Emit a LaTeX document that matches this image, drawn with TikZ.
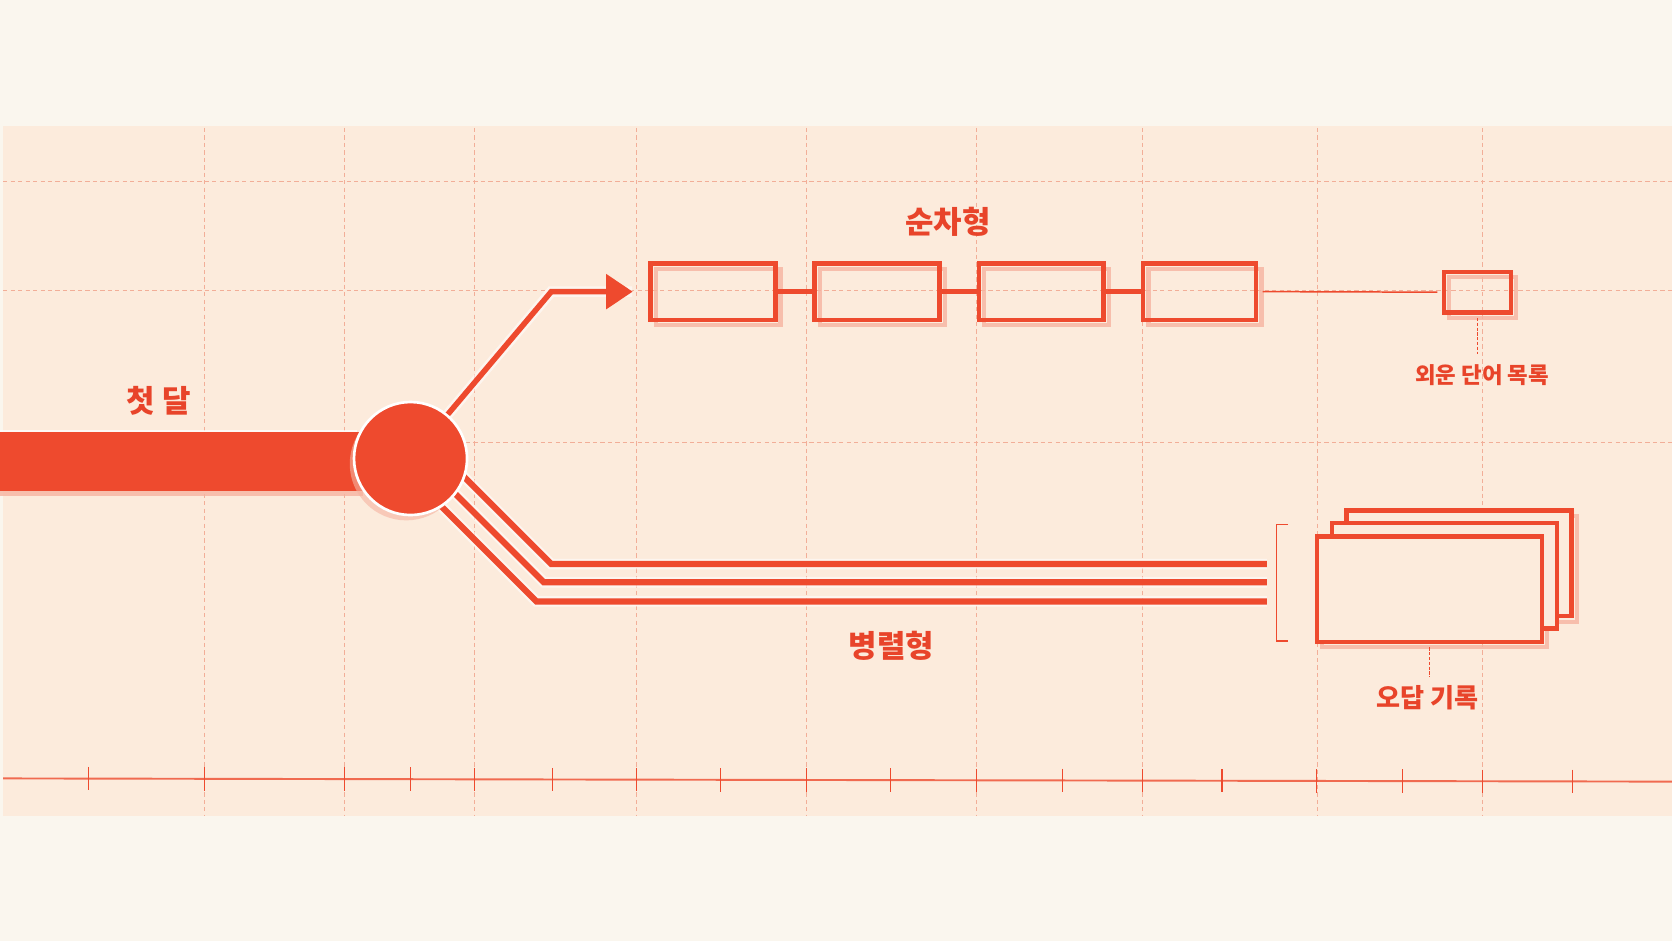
\documentclass[tikz,border=0pt]{standalone}
\usepackage{fontspec}
\newfontfamily\kr{Noto Sans CJK KR}
\usetikzlibrary{arrows.meta}
\definecolor{cream}{HTML}{FAF6EE}
\definecolor{band}{HTML}{FCEBDC}
\definecolor{gridc}{HTML}{F2AE98}
\definecolor{mainred}{HTML}{EE4A2E}
\definecolor{shadowc}{HTML}{F6B3A0}
\definecolor{textred}{HTML}{E8442A}
\pgfdeclarelayer{back}
\pgfdeclarelayer{lines}
\pgfsetlayers{back,lines,main}
\begin{document}
\begin{tikzpicture}[x=1pt,y=-1pt,
  gridline/.style={draw=gridc, line width=0.8pt, dash pattern=on 4pt off 3pt},
  redline/.style={draw=mainred, line width=5.8pt},
  halo/.style={draw=white, line width=10pt, opacity=0.55},
  seqbox/.style={draw=mainred, line width=4.3pt, minimum width=117pt, minimum height=53pt, inner sep=0pt},
  shbox/.style={draw=shadowc, line width=4pt, opacity=0.8},
  stackbox/.style={draw=mainred, fill=band, line width=4.3pt, minimum width=211pt, minimum height=99pt, inner sep=0pt},
  lbl/.style={text=textred, inner sep=0pt, font=\kr\bfseries\fontsize{29}{31}\selectfont},
  small/.style={font=\kr\bfseries\fontsize{21}{23}\selectfont},
  mid/.style={font=\kr\bfseries\fontsize{24.5}{26}\selectfont},
  leader/.style={draw=mainred, line width=1.2pt, dash pattern=on 3pt off 1.5pt},
  thin/.style={draw=mainred, line width=1.4pt},
  tick/.style={draw=mainred, line width=1pt}]
\useasboundingbox (0,0) rectangle (1568,882);
\begin{pgfonlayer}{back}
\fill[cream] (0,0) rectangle (1568,882);
\fill[band] (3,118) rectangle (1568,765);
\foreach \gx in {192,323,445,597,756,916,1071,1235,1390}
  \draw[gridline] (\gx,120) -- (\gx,765);
\foreach \gy in {170,272,415}
  \draw[gridline] (3,\gy) -- (1568,\gy);
% axis
\coordinate (axL) at (3,730);
\coordinate (axR) at (1568,733);
\draw[draw=mainred, line width=1.8pt, opacity=0.8] (axL) -- (axR);
\foreach \tx in {83,192,323,385,445,518,597,676,756,835,916,996,1071,1146,1235,1315,1390,1475}
  \draw[tick] (\tx,{719+3*\tx/1568}) -- (\tx,{741+3*\tx/1568});
\end{pgfonlayer}

% shadows of sequence boxes
\foreach \bx/\bw in {668.5/117,822.5/117,976.5/117,1125/106}
  \draw[shbox] ({\bx-\bw/2+5},252) rectangle ++(\bw,53);
\draw[shbox] (1359,260) rectangle ++(63,38);
\draw[shbox] (1240,508) rectangle ++(211,99);
\draw[shbox] (1268,484) rectangle ++(211,99);

% bar and circle
\fill[shadowc, opacity=0.8] (0,458) rectangle (340,465);
\node[draw=none, fill=mainred, minimum width=340pt, minimum height=55pt, inner sep=0pt, anchor=west] (bar) at (0,432.5) {};
\draw[white, line width=2pt, opacity=0.7] (0,404) -- (335,404);
\fill[shadowc, opacity=0.6] (381,435) circle (53);
\node[circle, fill=mainred, draw=white, line width=2.5pt, minimum size=106pt, inner sep=0pt] (c) at (385,430) {};

% sequence boxes
\node[seqbox] (b1) at (668.5,273.5) {};
\node[seqbox] (b2) at (822.5,273.5) {};
\node[seqbox] (b3) at (976.5,273.5) {};
\node[seqbox, minimum width=106pt] (b4) at (1125,273.5) {};
\node[seqbox, minimum width=63pt, minimum height=38pt] (sb) at (1385.5,274) {};

\draw[redline, line width=5pt] (b1.east) -- (b2.west);
\draw[redline, line width=5pt] (b2.east) -- (b3.west);
\draw[redline, line width=5pt] (b3.east) -- (b4.west);
\draw[thin] ([xshift=4pt]b4.east) -- ([xshift=-4pt]sb.west);

% arrow
\coordinate (ac) at (517,273.5);
\begin{pgfonlayer}{lines}
\draw[halo] (c) -- (ac) -- ([xshift=-15pt]b1.west);
\end{pgfonlayer}
\draw[redline, line width=5.2pt, -{Triangle[length=25pt,width=32pt]}, shorten >=14.5pt] (c) -- (ac) -- (b1.west);

% parallel lines
\coordinate (p1s) at (400,412);
\coordinate (p1c) at (517,529);
\coordinate (p1e) at (1188,529);
\coordinate (p2s) at (390,426);
\coordinate (p2c) at (510,546);
\coordinate (p2e) at (1188,546);
\coordinate (p3s) at (380,441);
\coordinate (p3c) at (503,564);
\coordinate (p3e) at (1188,564);
\begin{pgfonlayer}{lines}
\draw[halo] (p1s) -- (p1c) -- (p1e);
\draw[halo] (p2s) -- (p2c) -- (p2e);
\draw[halo] (p3s) -- (p3c) -- (p3e);
\draw[redline] (p1s) -- (p1c) -- (p1e);
\draw[redline] (p2s) -- (p2c) -- (p2e);
\draw[redline] (p3s) -- (p3c) -- (p3e);
\end{pgfonlayer}

% bracket
\coordinate (brT) at (1208,492);
\coordinate (brB) at (1208,601);
\draw[thin] (brT) -- (1197,492) -- (1197,601) -- (brB);

% stacked boxes
\node[stackbox] (k) at (1368.5,528) {};
\node[stackbox] (m) at (1354.5,540) {};
\node[stackbox] (f) at (1340.5,552.5) {};

% leaders and labels
\coordinate (sbl) at (1385.5,332);
\draw[leader] ([yshift=-3pt]sb.south) -- (sbl);
\coordinate (fl) at (1340.5,635);
\draw[leader] ([yshift=-3pt]f.south) -- (fl);

\node[lbl] (tfirst) at (149,376) {첫 달};
\node[lbl] (tseq) at (889,208) {순차형};
\node[lbl] (tpar) at (836,606) {병렬형};
\node[lbl, small] (tmem) at (1390,352) {외운 단어 목록};
\node[lbl, mid] (terr) at (1339,654) {오답 기록};
\end{tikzpicture}
\end{document}
